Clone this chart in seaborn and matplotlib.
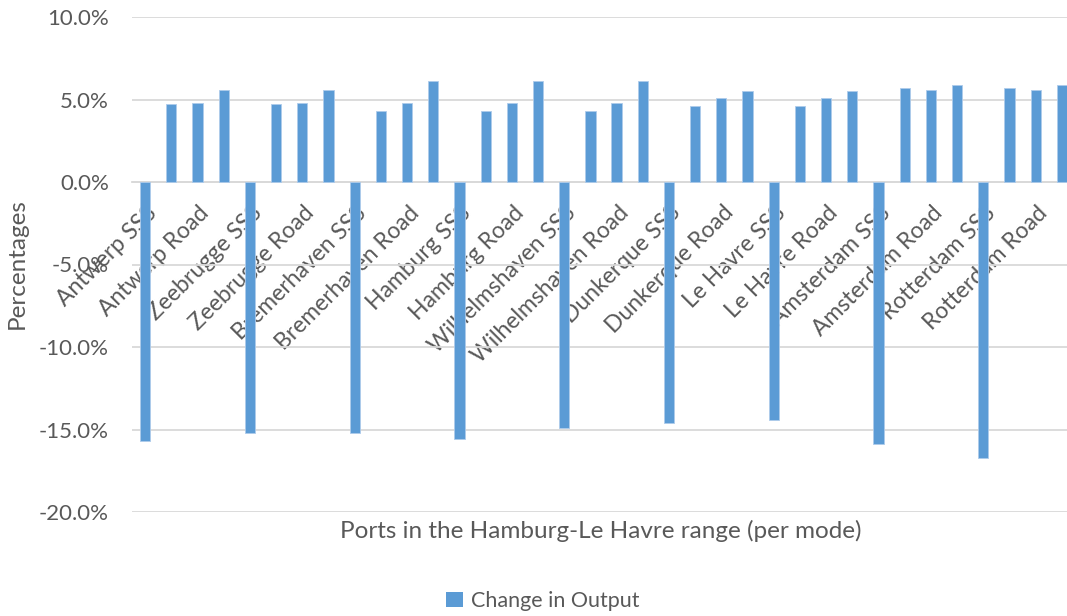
import matplotlib
matplotlib.use("Agg")
import matplotlib.pyplot as plt
import seaborn as sns
import pandas as pd
from matplotlib.transforms import ScaledTranslation
from matplotlib.ticker import FuncFormatter, MultipleLocator
from matplotlib.patches import Patch

# Percentage change in output per port and transport mode
ports = ["Antwerp", "Zeebrugge", "Bremerhaven", "Hamburg", "Wilhelmshaven",
         "Dunkerque", "Le Havre", "Amsterdam", "Rotterdam"]
modes = ["SSS", "Rail", "Road", "IWW"]
sss_change = [-15.7, -15.2, -15.2, -15.6, -14.9, -14.6, -14.4, -15.9, -16.7]
rail_change = [4.7, 4.7, 4.3, 4.3, 4.3, 4.6, 4.6, 5.7, 5.7]
road_change = [4.8, 4.8, 4.8, 4.8, 4.8, 5.1, 5.1, 5.6, 5.6]
iww_change = [5.55, 5.55, 6.1, 6.1, 6.1, 5.5, 5.5, 5.9, 5.9]

categories = []
values = []
for i, port in enumerate(ports):
    for mode, series in zip(modes, [sss_change, rail_change, road_change, iww_change]):
        categories.append(f"{port} {mode}")
        values.append(series[i])

df = pd.DataFrame({"category": categories, "change": values})

sns.set_theme(style="white")
plt.rcParams["font.family"] = ["Lato", "DejaVu Sans"]
text_color = "#595959"
grid_color = "#d9d9d9"
bar_color = "#5b9bd5"

fig = plt.figure(figsize=(10.67, 6.16), dpi=100)
W, H = 1067, 616
ax = fig.add_axes([132 / W, 1 - 512 / H, 943 / W, 495 / H])

sns.barplot(data=df, x="category", y="change", order=categories, color=bar_color,
            saturation=1, width=0.39, edgecolor="#aecbeb", linewidth=0.6,
            ax=ax, zorder=3)

ax.set_ylim(-20, 10)
ax.set_xlim(-0.5, len(categories) - 0.5)
ax.yaxis.set_major_locator(MultipleLocator(5))
ax.yaxis.set_major_formatter(FuncFormatter(lambda v, _: f"{v:.1f}%"))
ax.grid(axis="y", color=grid_color, linewidth=1.3, zorder=0)
ax.grid(axis="x", visible=False)
for side in ["top", "right", "left"]:
    ax.spines[side].set_visible(False)
ax.spines["bottom"].set_position(("data", 0))
ax.spines["bottom"].set_color(grid_color)
ax.spines["bottom"].set_linewidth(1.3)

ax.tick_params(axis="y", length=0, pad=16.5, labelsize=16, labelcolor=text_color)
ax.tick_params(axis="x", length=0, pad=0, labelsize=16.5, labelcolor=text_color)

# only every second category gets a visible label
ax.set_xticks(range(len(categories)))
ax.set_xticklabels([c if i % 2 == 0 else "" for i, c in enumerate(categories)],
                   rotation=45, ha="right", va="top", rotation_mode="anchor")
offset = ScaledTranslation(1 / 100, -20 / 100, fig.dpi_scale_trans)
for lab in ax.get_xticklabels():
    lab.set_transform(lab.get_transform() + offset)
    lab.set_zorder(1)

ax.set_xlabel("")
ax.set_ylabel("")
fig.text(601 / W, 1 - 531 / H, "Ports in the Hamburg-Le Havre range (per mode)",
         ha="center", va="center", fontsize=17.5, color=text_color)
fig.text(17 / W, 1 - 264 / H, "Percentages", rotation=90,
         ha="center", va="center", fontsize=17.5, color=text_color)

fig.legend(handles=[Patch(facecolor=bar_color, edgecolor="none", label="Change in Output")],
           loc="center", bbox_to_anchor=(543 / W, 1 - 601 / H), frameon=False,
           fontsize=15.5, handlelength=0.75, handleheight=0.75, handletextpad=0.4,
           labelcolor=text_color)

fig.savefig("out.png", dpi=100)
